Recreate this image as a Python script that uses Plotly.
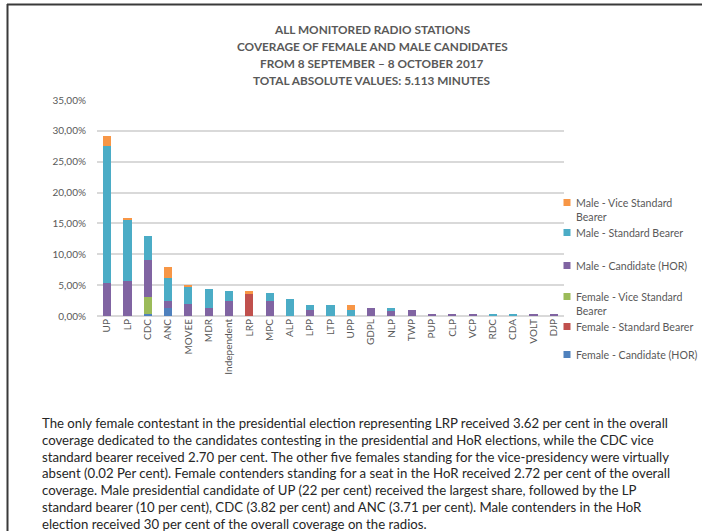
import plotly.graph_objects as go

# Parties along the horizontal axis
parties = ["UP", "LP", "CDC", "ANC", "MOVEE", "MDR", "Independent", "LRP", "MPC",
           "ALP", "LPP", "LTP", "UPP", "GDPL", "NLP", "TWP", "PUP", "CLP", "VCP",
           "RDC", "CDA", "VOLT", "DJP"]

# Share of total coverage (%) per candidate category
female_hor = [0, 0, 0.30, 1.25, 0, 0, 0, 0, 0,
              0, 0, 0, 0, 0, 0, 0, 0, 0, 0,
              0, 0, 0, 0]
female_sb = [0, 0, 0, 0, 0, 0, 0, 3.62, 0,
             0, 0, 0, 0, 0, 0, 0, 0, 0, 0,
             0, 0, 0, 0]
female_vsb = [0, 0, 2.70, 0, 0, 0, 0, 0, 0,
              0, 0, 0, 0, 0, 0, 0, 0, 0, 0,
              0, 0, 0, 0]
male_hor = [5.40, 5.65, 6.10, 1.22, 1.90, 1.25, 2.45, 0, 2.45,
            0.05, 0.90, 0, 0, 1.25, 0.75, 0.90, 0.20, 0.20, 0.20,
            0, 0, 0.20, 0.20]
male_sb = [22.20, 9.90, 3.82, 3.71, 2.85, 3.10, 1.60, 0, 1.30,
           2.75, 0.90, 1.82, 0.90, 0, 0.50, 0, 0, 0, 0,
           0.20, 0.20, 0, 0]
male_vsb = [1.60, 0.35, 0, 1.70, 0.32, 0, 0, 0.40, 0,
            0, 0, 0, 0.90, 0, 0, 0, 0, 0, 0,
            0, 0, 0, 0]

series_names = ["Female - Candidate (HOR)", "Female - Standard Bearer",
                "Female - Vice Standard Bearer", "Male - Candidate (HOR)",
                "Male - Standard Bearer", "Male - Vice Standard Bearer"]
series_values = [female_hor, female_sb, female_vsb, male_hor, male_sb, male_vsb]
series_colors = ["#4F81BD", "#C0504D", "#9BBB59", "#8064A2", "#4BACC6", "#F79646"]

y_ticks = [0, 5, 10, 15, 20, 25, 30, 35]
y_tick_labels = ["0,00%", "5,00%", "10,00%", "15,00%", "20,00%", "25,00%", "30,00%", "35,00%"]

title_lines = ["ALL MONITORED RADIO STATIONS",
               "COVERAGE OF FEMALE AND MALE CANDIDATES",
               "FROM 8 SEPTEMBER \u2013 8 OCTOBER 2017",
               "TOTAL ABSOLUTE VALUES: 5.113 MINUTES"]

legend_labels = [["Male - Vice Standard", "Bearer"],
                 ["Male - Standard Bearer"],
                 ["Male - Candidate (HOR)"],
                 ["Female - Vice Standard", "Bearer"],
                 ["Female - Standard Bearer"],
                 ["Female - Candidate (HOR)"]]
legend_colors = ["#F79646", "#4BACC6", "#8064A2", "#9BBB59", "#C0504D", "#4F81BD"]

note_lines = [
    "The only female contestant in the presidential election representing LRP received 3.62 per cent in the overall",
    "coverage dedicated to the candidates contesting in the presidential and HoR elections, while the CDC vice",
    "standard bearer received 2.70 per cent. The other five females standing for the vice-presidency were virtually",
    "absent (0.02 Per cent). Female contenders standing for a seat in the HoR received 2.72 per cent of the overall",
    "coverage. Male presidential candidate of UP (22 per cent) received the largest share, followed by the LP",
    "standard bearer (10 per cent), CDC (3.82 per cent) and ANC (3.71 per cent). Male contenders in the HoR",
    "election received 30 per cent of the overall coverage on the radios.",
]

W, H = 702, 531
ML, MR, MT, MB = 97, 138, 100, 215
PW, PH = W - ML - MR, H - MT - MB


def px_x(x):
    return (x - ML) / PW


def px_y(y):
    return (H - MB - y) / PH


FONT = "Lato, Carlito, 'Liberation Sans', sans-serif"
GREY = "#595959"

fig = go.Figure()
for name, vals, col in zip(series_names, series_values, series_colors):
    fig.add_trace(go.Bar(x=parties, y=vals, name=name, marker_color=col,
                         marker_line_width=0, showlegend=False))

fig.update_layout(
    width=W, height=H,
    margin=dict(l=ML, r=MR, t=MT, b=MB, pad=0),
    barmode="stack", bargap=0.6,
    paper_bgcolor="white", plot_bgcolor="white",
    font=dict(family=FONT, color=GREY, size=10),
)
fig.update_yaxes(range=[0, 35], tickvals=y_ticks, ticktext=y_tick_labels,
                 showgrid=True, gridcolor="#D9D9D9", gridwidth=2,
                 zeroline=True, zerolinecolor="#D9D9D9", zerolinewidth=2,
                 showline=False, ticks="", ticklabelstandoff=10,
                 tickfont=dict(size=10, color=GREY, family=FONT))
fig.update_xaxes(tickangle=-90, showgrid=False, showline=False, ticks="",
                 tickfont=dict(size=10, color=GREY, family=FONT))

annotations = []
# chart title
for i, line in enumerate(title_lines):
    annotations.append(dict(xref="paper", yref="paper", x=px_x(372), y=px_y(29 + 17 * i),
                            text="<b>" + line + "</b>", showarrow=False,
                            xanchor="center", yanchor="middle",
                            font=dict(family=FONT, size=11.8, color=GREY)))

# legend swatches and labels
shapes = []
legend_rows = [202.5, 232.5, 265.5, 296.5, 326.5, 354.5]
for labels, col, yc in zip(legend_labels, legend_colors, legend_rows):
    shapes.append(dict(type="rect", xref="paper", yref="paper",
                       x0=px_x(563.5), x1=px_x(570.5), y0=px_y(yc - 3.5), y1=px_y(yc + 3.5),
                       fillcolor=col, line_width=0))
    for j, lab in enumerate(labels):
        annotations.append(dict(xref="paper", yref="paper", x=px_x(573.5), y=px_y(yc + 14.5 * j),
                                text=lab, showarrow=False, xanchor="left", yanchor="middle",
                                font=dict(family=FONT, size=10.6, color=GREY)))

# explanatory paragraph under the chart
for i, line in enumerate(note_lines):
    annotations.append(dict(xref="paper", yref="paper", x=px_x(40), y=px_y(423 + 16.8 * i),
                            text=line, showarrow=False, xanchor="left", yanchor="middle",
                            font=dict(family=FONT, size=13.2, color="#262626")))

# page frame (top and left edges)
shapes.append(dict(type="line", xref="paper", yref="paper",
                   x0=px_x(7), x1=px_x(710), y0=px_y(4.5), y1=px_y(4.5),
                   line=dict(color="#3A3A3A", width=2)))
shapes.append(dict(type="line", xref="paper", yref="paper",
                   x0=px_x(7.5), x1=px_x(7.5), y0=px_y(4), y1=px_y(540),
                   line=dict(color="#3A3A3A", width=2)))

fig.update_layout(annotations=annotations, shapes=shapes)

fig.write_html("out.html")
